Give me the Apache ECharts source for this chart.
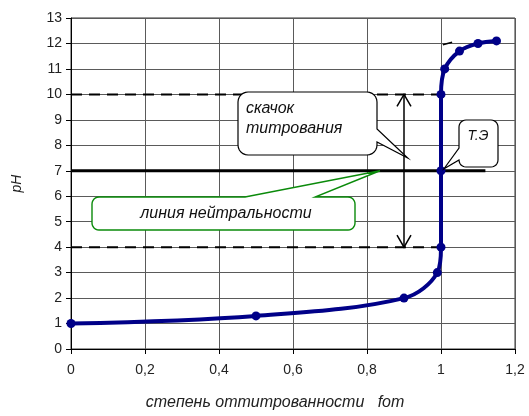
<!DOCTYPE html>
<html><head><meta charset="utf-8">
<script src="https://cdn.jsdelivr.net/npm/echarts@6/dist/echarts.min.js"></script>
<style>html,body{margin:0;padding:0;background:#fff}#c{width:529px;height:416px}</style>
</head><body><div id="c"></div>
<script>
// data
const fot = [0, 0.5, 0.9, 0.99, 1, 1, 1, 1.01, 1.05, 1.1, 1.15];
const pH = [1, 1.3, 2, 3, 4, 7, 10, 11, 11.7, 12, 12.1];
const jumpLow = 4, jumpHigh = 10, neutralPH = 7;
const refStart = 0, refEnd = 1, neutralEnd = 1.12, arrowX = 0.9;
const strayX = [1.005, 1.03], strayY = [11.95, 12.05];
const xTicks = [0, 0.2, 0.4, 0.6, 0.8, 1, 1.2];
const labels = { jump: ['скачок', 'титрования'], neutral: 'линия нейтральности', eq: 'Т.Э' };
const xTitle = 'степень оттитрованности   fот', yTitle = 'pH';

const chart = echarts.init(document.getElementById('c'), null, {renderer: 'canvas'});
const FONT = 'Liberation Sans, Arial, sans-serif';
const gridCol = '#5a5a5a';
const option = {
  animation: false,
  grid: {left: 71, right: 14, top: 18, bottom: 62, show: true, borderColor: '#333', borderWidth: 1},
  xAxis: {
    type: 'value', min: xTicks[0], max: xTicks[xTicks.length - 1], interval: 0.2,
    axisLine: {show: true, onZero: false, lineStyle: {color: '#000', width: 1}},
    axisTick: {show: true, length: 5, lineStyle: {color: '#000'}},
    splitLine: {show: true, lineStyle: {color: gridCol, width: 1}},
    axisLabel: {color: '#222', fontSize: 14, fontFamily: FONT, margin: 14,
      formatter: v => String(+v.toFixed(1)).replace('.', ',')},
    name: xTitle, nameLocation: 'middle', nameGap: 46,
    nameTextStyle: {color: '#222', fontSize: 16, fontStyle: 'italic', fontFamily: FONT, padding: [0, 36, 0, 0]}
  },
  yAxis: {
    type: 'value', min: 0, max: 13, interval: 1,
    axisLine: {show: true, lineStyle: {color: '#000', width: 1}},
    axisTick: {show: true, length: 5, lineStyle: {color: '#000'}},
    splitLine: {show: true, lineStyle: {color: gridCol, width: 1}},
    axisLabel: {color: '#222', fontSize: 14, fontFamily: FONT, margin: 9},
    name: yTitle, nameLocation: 'middle', nameGap: 47, nameRotate: 90,
    nameTextStyle: {color: '#222', fontSize: 14, fontStyle: 'italic', fontFamily: FONT}
  },
  series: [
    {type: 'line', data: [[refStart, jumpHigh], [refEnd, jumpHigh]], symbol: 'none', silent: true,
     lineStyle: {color: '#000', width: 2, type: [11, 7]}, z: 3},
    {type: 'line', data: [[refStart, jumpLow], [refEnd, jumpLow]], symbol: 'none', silent: true,
     lineStyle: {color: '#000', width: 2, type: [11, 7]}, z: 3},
    {type: 'line', data: [[refStart, neutralPH], [neutralEnd, neutralPH]], symbol: 'none', silent: true,
     lineStyle: {color: '#000', width: 3}, z: 3},
    {type: 'line', data: [[strayX[0], strayY[0]], [strayX[1], strayY[1]]], symbol: 'none', silent: true,
     lineStyle: {color: '#000', width: 1.5}, z: 3},
    {type: 'line', data: fot.map((x, i) => [x, pH[i]]), smooth: 0.35,
     symbol: 'circle', symbolSize: 9, itemStyle: {color: '#000088'},
     lineStyle: {color: '#000088', width: 4}, z: 5}
  ]
};
chart.setOption(option);

function cp(x, y) { return chart.convertToPixel({gridIndex: 0}, [x, y]); }
function arc(pts, cx, cy, r, a0, a1) {
  const n = 6;
  for (let i = 0; i <= n; i++) {
    const t = a0 + (a1 - a0) * i / n;
    pts.push([cx + r * Math.cos(t), cy + r * Math.sin(t)]);
  }
}
function callout(x, y, w, h, r, side, a, b, tx, ty) {
  const P = Math.PI, pts = [];
  arc(pts, x + r, y + r, r, P, 1.5 * P);               // top-left
  if (side === 'top') pts.push([a, y], [tx, ty], [b, y]);
  arc(pts, x + w - r, y + r, r, 1.5 * P, 2 * P);       // top-right
  if (side === 'right') pts.push([x + w, a], [tx, ty], [x + w, b]);
  arc(pts, x + w - r, y + h - r, r, 0, 0.5 * P);       // bottom-right
  if (side === 'bottom') pts.push([b, y + h], [tx, ty], [a, y + h]);
  arc(pts, x + r, y + h - r, r, 0.5 * P, P);           // bottom-left
  if (side === 'left') pts.push([x, b], [tx, ty], [x, a]);
  return pts;
}
const arrTop = cp(arrowX, jumpHigh), arrBot = cp(arrowX, jumpLow);
const eqPt = cp(refEnd, neutralPH);
const neutTip = cp(0.835, neutralPH);
const jumpTip = cp(0.91, 7.5);
const ah = 12, aw = 7;
const graphic = [
  {type: 'polyline', shape: {points: [arrTop, arrBot]}, style: {stroke: '#000', lineWidth: 1.5}, z: 10},
  {type: 'polyline', shape: {points: [[arrTop[0] - aw, arrTop[1] + ah], arrTop, [arrTop[0] + aw, arrTop[1] + ah]]},
   style: {stroke: '#000', lineWidth: 1.5, fill: null}, z: 10},
  {type: 'polyline', shape: {points: [[arrBot[0] - aw, arrBot[1] - ah], arrBot, [arrBot[0] + aw, arrBot[1] - ah]]},
   style: {stroke: '#000', lineWidth: 1.5, fill: null}, z: 10},
  {type: 'polygon', shape: {points: callout(238, 92, 139, 63, 10, 'right', 129, 142, jumpTip[0], jumpTip[1])},
   style: {fill: '#fff', stroke: '#000', lineWidth: 1.2}, z: 20},
  {type: 'text', x: 246, y: 99, style: {text: labels.jump.join('\n'), fontSize: 16, lineHeight: 20,
   fontStyle: 'italic', fontFamily: FONT, fill: '#111'}, z: 21},
  {type: 'polygon', shape: {points: callout(92, 197, 263, 33, 7, 'top', 245, 315, neutTip[0], neutTip[1])},
   style: {fill: '#fff', stroke: '#0a8a0a', lineWidth: 1.4}, z: 20},
  {type: 'text', x: 226, y: 214, style: {text: labels.neutral, fontSize: 16, fontStyle: 'italic',
   fontFamily: FONT, fill: '#111', align: 'center', verticalAlign: 'middle'}, z: 21},
  {type: 'polygon', shape: {points: callout(459, 120, 39, 47, 7, 'left', 148, 160, eqPt[0] + 3, eqPt[1] - 2)},
   style: {fill: '#fff', stroke: '#000', lineWidth: 1.2}, z: 20},
  {type: 'text', x: 478, y: 136, style: {text: labels.eq, fontSize: 14, fontStyle: 'italic',
   fontFamily: FONT, fill: '#111', align: 'center', verticalAlign: 'middle'}, z: 21}
];
chart.setOption({graphic: graphic});
</script></body></html>
